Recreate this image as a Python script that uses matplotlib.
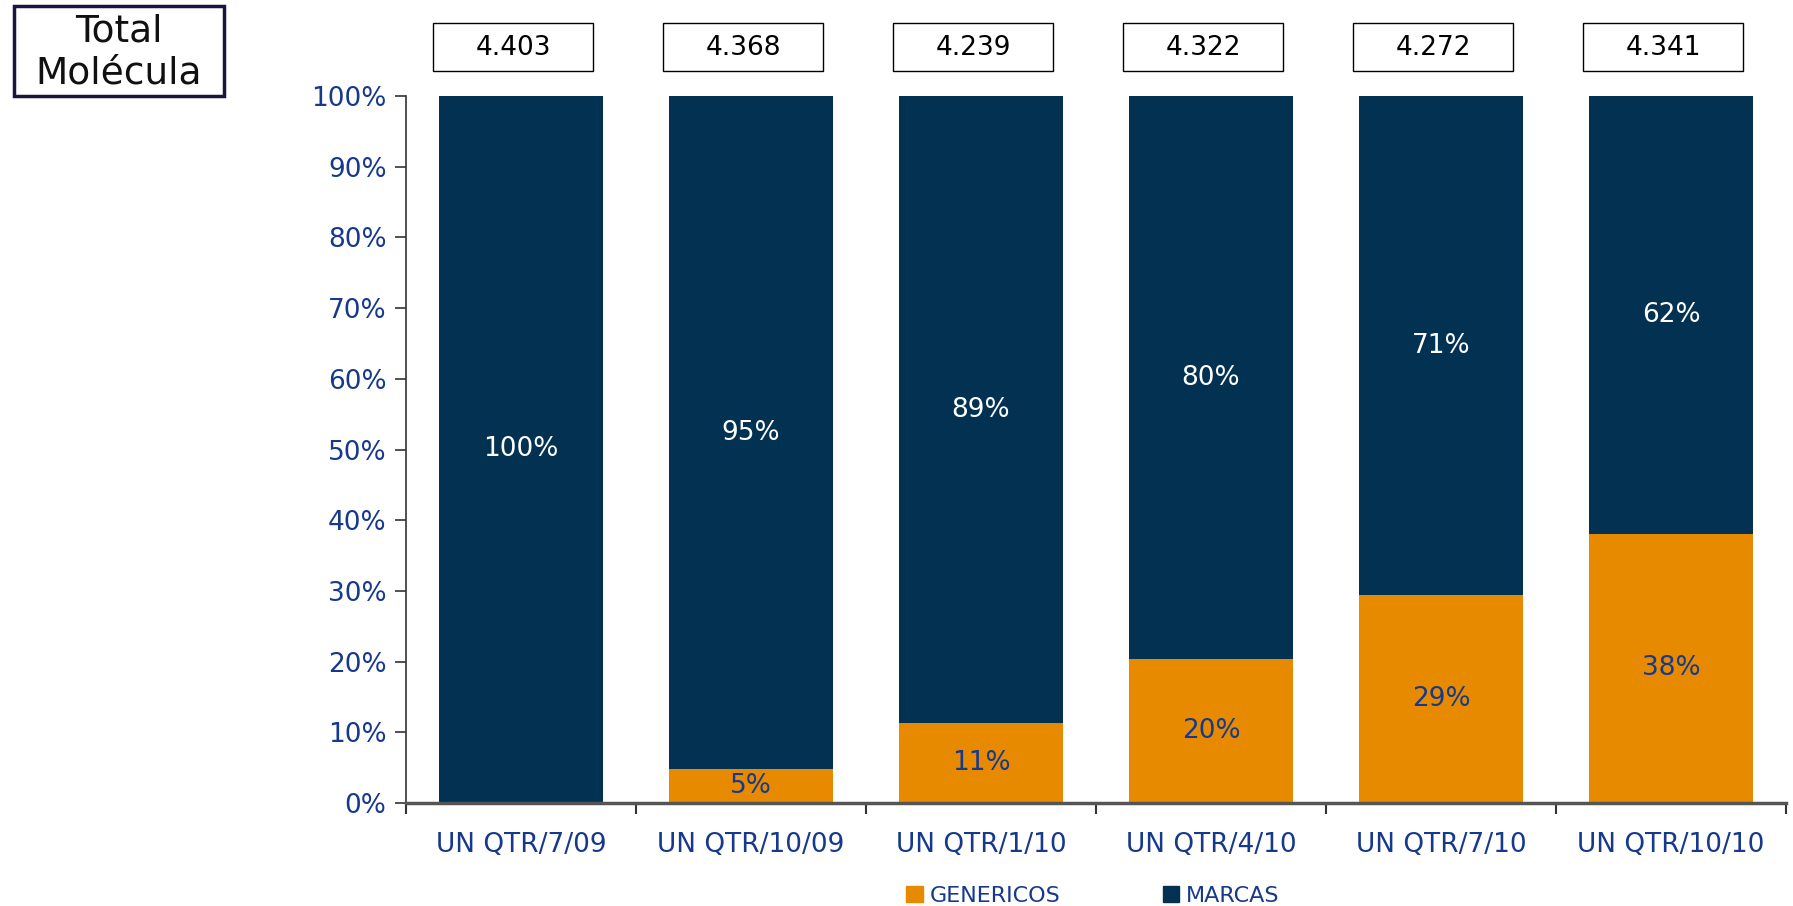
import numpy as np
import matplotlib.pyplot as plt
from matplotlib.patches import Patch, Rectangle

# data
categories = ['UN QTR/7/09', 'UN QTR/10/09', 'UN QTR/1/10', 'UN QTR/4/10', 'UN QTR/7/10', 'UN QTR/10/10']
genericos = [0.0, 4.8, 11.3, 20.3, 29.4, 38.1]
marcas = [100.0, 95.2, 88.7, 79.7, 70.6, 61.9]
gen_labels = ['', '5%', '11%', '20%', '29%', '38%']
mar_labels = ['100%', '95%', '89%', '80%', '71%', '62%']
totals = ['4.403', '4.368', '4.239', '4.322', '4.272', '4.341']

navy = '#023152'
orange = '#E88A00'
blue_txt = '#17398C'

W, H = 1793, 906
fig = plt.figure(figsize=(W / 100, H / 100), dpi=100)
ax = fig.add_axes([406 / W, 1 - 803 / H, 1380 / W, 707 / H])

x = np.arange(len(categories))
ax.bar(x, genericos, width=0.713, color=orange, zorder=2)
ax.bar(x, marcas, width=0.713, bottom=genericos, color=navy, zorder=2)

for i in range(len(x)):
    if gen_labels[i]:
        ax.text(x[i], genericos[i] / 2, gen_labels[i], ha='center', va='center',
                fontsize=19, color=blue_txt)
    ax.text(x[i], genericos[i] + marcas[i] / 2, mar_labels[i], ha='center', va='center',
            fontsize=19, color='white')
    # total boxes above the bars (sit slightly left of bar centre)
    xc = x[i] - 0.035
    ax.add_patch(Rectangle((xc - 0.348, 103.5), 0.696, 6.8, fc='white', ec='black',
                           lw=1.0, clip_on=False))
    ax.text(xc, 106.8, totals[i], ha='center', va='center', fontsize=19, color='black',
            clip_on=False)

ax.set_xlim(-0.5, len(x) - 0.5)
ax.set_ylim(0, 100)
ax.set_yticks(np.arange(0, 101, 10))
ax.set_yticklabels([f'{v}%' for v in range(0, 101, 10)])
ax.set_xticks(x)
ax.set_xticklabels(categories)
ax.set_xticks(np.arange(-0.5, len(x)), minor=True)
ax.tick_params(axis='x', which='major', length=0, pad=21, labelsize=19, labelcolor=blue_txt)
ax.tick_params(axis='x', which='minor', length=8, width=1.5, color='#333333', direction='out')
ax.tick_params(axis='y', length=8, width=1.2, color='#333333', pad=6, labelsize=19,
               labelcolor=blue_txt)

for s in ['top', 'right']:
    ax.spines[s].set_visible(False)
ax.spines['left'].set_color('#333333')
ax.spines['left'].set_linewidth(1.2)
ax.spines['bottom'].set_color('#555555')
ax.spines['bottom'].set_linewidth(2.5)

handles = [Patch(color=orange, label='GENERICOS'), Patch(color=navy, label='MARCAS')]
leg = fig.legend(handles=handles, loc='center', bbox_to_anchor=(1093 / W, 1 - 896 / H),
                 ncol=2, frameon=False, fontsize=16, handlelength=0.75, handleheight=0.75,
                 handletextpad=0.3, columnspacing=4.6)
for t in leg.get_texts():
    t.set_color(blue_txt)

# title box
fig.add_artist(Rectangle((14 / W, 1 - 96 / H), 210 / W, 90 / H, transform=fig.transFigure,
                         fc='white', ec='#1a1440', lw=2.5))
fig.text(119 / W, 1 - 31 / H, 'Total', ha='center', va='center', fontsize=27, color='#111111')
fig.text(119 / W, 1 - 74 / H, 'Molécula', ha='center', va='center', fontsize=27,
         color='#111111')

fig.savefig('out.png', dpi=100)
